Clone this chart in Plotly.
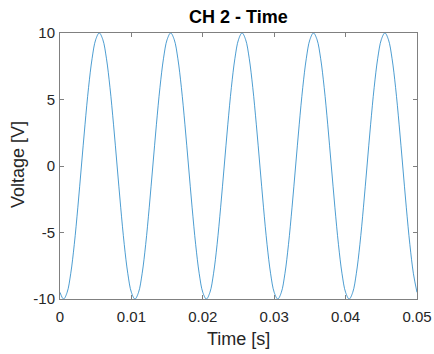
import plotly.graph_objects as go

# Time samples [s] (every 0.5 ms) and voltage values [V]
time_s = [i * 0.0005 for i in range(101)]
voltage_v = [
    -9.5, -10.0, -9.5, -8.1, -5.9, -3.1, 0.0, 3.1, 5.9, 8.1, 9.5,
    10.0, 9.5, 8.1, 5.9, 3.1, 0.0, -3.1, -5.9, -8.1, -9.5,
    -10.0, -9.5, -8.1, -5.9, -3.1, 0.0, 3.1, 5.9, 8.1, 9.5,
    10.0, 9.5, 8.1, 5.9, 3.1, 0.0, -3.1, -5.9, -8.1, -9.5,
    -10.0, -9.5, -8.1, -5.9, -3.1, 0.0, 3.1, 5.9, 8.1, 9.5,
    10.0, 9.5, 8.1, 5.9, 3.1, 0.0, -3.1, -5.9, -8.1, -9.5,
    -10.0, -9.5, -8.1, -5.9, -3.1, 0.0, 3.1, 5.9, 8.1, 9.5,
    10.0, 9.5, 8.1, 5.9, 3.1, 0.0, -3.1, -5.9, -8.1, -9.5,
    -10.0, -9.5, -8.1, -5.9, -3.1, 0.0, 3.1, 5.9, 8.1, 9.5,
    10.0, 9.5, 8.1, 5.9, 3.1, 0.0, -3.1, -5.9, -8.1, -9.5,
]

x_ticks = [0, 0.01, 0.02, 0.03, 0.04, 0.05]
x_tick_labels = ["0", "0.01", "0.02", "0.03", "0.04", "0.05"]
y_ticks = [-10, -5, 0, 5, 10]
y_tick_labels = ["-10", "-5", "0", "5", "10"]

title_text = "CH 2 - Time"
x_title = "Time [s]"
y_title = "Voltage [V]"

axis_color = "#262626"
font_family = "Liberation Sans, Arial, sans-serif"

W, H = 434, 354
L, R, T, B = 60, 17, 33, 55

fig = go.Figure()
fig.add_trace(go.Scatter(
    x=time_s, y=voltage_v, mode="lines",
    line=dict(color="#0072BD", width=0.7, shape="spline", smoothing=1.0),
    showlegend=False, hoverinfo="skip",
))

axis_common = dict(
    showline=True, linecolor="#808080", linewidth=1, mirror="ticks",
    ticks="inside", ticklen=4, tickwidth=1, tickcolor="#808080",
    showgrid=False, zeroline=False, automargin=False,
    tickfont=dict(family=font_family, size=15, color=axis_color),
)

fig.update_layout(
    template="none",
    width=W, height=H,
    margin=dict(l=L, r=R, t=T, b=B, autoexpand=False),
    paper_bgcolor="white", plot_bgcolor="white",
    xaxis=dict(range=[0, 0.05], tickvals=x_ticks, ticktext=x_tick_labels,
               ticklabelstandoff=4, **axis_common),
    yaxis=dict(range=[-10, 10], tickvals=y_ticks, ticktext=y_tick_labels,
               ticklabelstandoff=1, **axis_common),
    annotations=[
        dict(text="<b>" + title_text + "</b>", xref="paper", yref="paper",
             x=0.5, y=1 + 15.5 / (H - T - B), xanchor="center", yanchor="middle",
             showarrow=False, font=dict(family=font_family, size=18, color="#000000")),
        dict(text=x_title, xref="paper", yref="paper",
             x=0.5, y=-(339 - (H - B)) / (H - T - B), xanchor="center", yanchor="middle",
             showarrow=False, font=dict(family=font_family, size=18, color=axis_color)),
        dict(text=y_title, xref="paper", yref="paper", textangle=-90,
             x=-(L - 18) / (W - L - R), y=0.5 - (165 - (T + (H - T - B) / 2)) / (H - T - B),
             xanchor="center", yanchor="middle",
             showarrow=False, font=dict(family=font_family, size=18, color=axis_color)),
    ],
)

fig.write_html(
    "out.html",
    config={"displayModeBar": False},
    post_script="document.body.style.margin='0px';document.body.style.overflow='hidden';",
)
